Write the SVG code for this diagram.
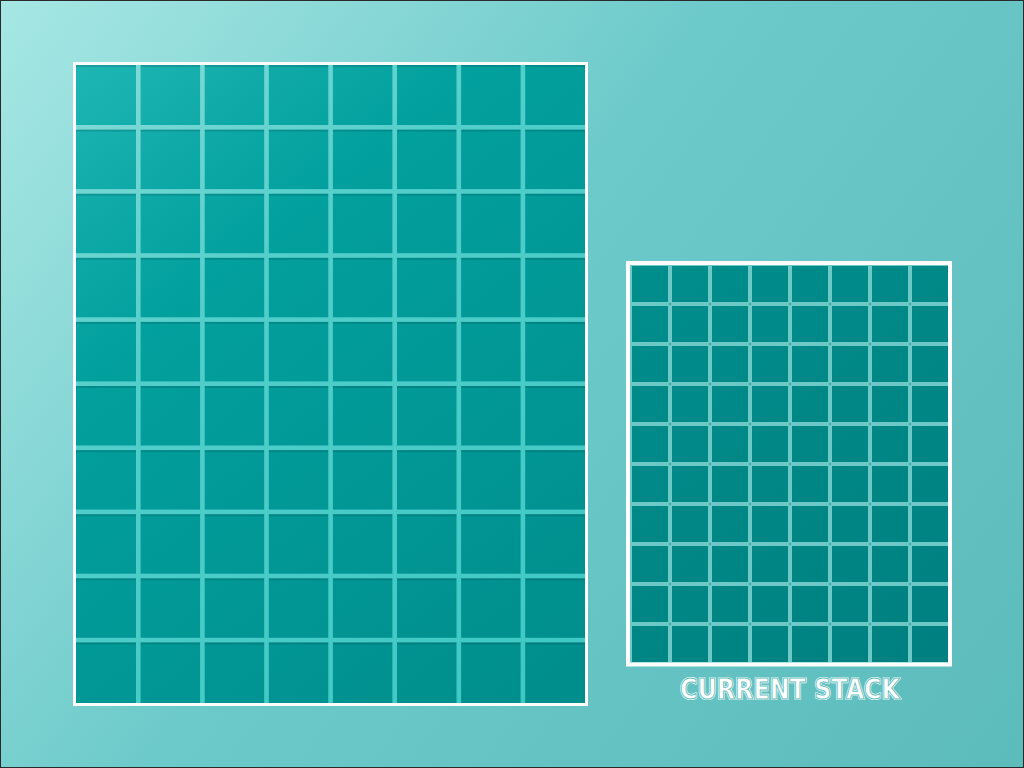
<svg xmlns="http://www.w3.org/2000/svg" width="1024" height="768" viewBox="0 0 1024 768">
  <defs>
    <linearGradient id="bg" gradientUnits="userSpaceOnUse" x1="0" y1="0" x2="1024" y2="768">
      <stop offset="0" stop-color="#a6e7e4"/>
      <stop offset="0.45" stop-color="#6dcaca"/>
      <stop offset="1" stop-color="#5cbbbb"/>
    </linearGradient>
    <linearGradient id="cellBig" gradientUnits="userSpaceOnUse" x1="76" y1="65" x2="585" y2="703">
      <stop offset="0" stop-color="#1eb6b4"/>
      <stop offset="0.3" stop-color="#02a09e"/>
      <stop offset="1" stop-color="#008d8b"/>
    </linearGradient>
    <linearGradient id="gapBig" gradientUnits="userSpaceOnUse" x1="76" y1="65" x2="585" y2="703">
      <stop offset="0" stop-color="#86dbd7"/>
      <stop offset="0.35" stop-color="#52cecb"/>
      <stop offset="1" stop-color="#3cc8c4"/>
    </linearGradient>
    <linearGradient id="cellSmall" gradientUnits="userSpaceOnUse" x1="630" y1="265" x2="948" y2="663">
      <stop offset="0" stop-color="#008e8c"/>
      <stop offset="1" stop-color="#008080"/>
    </linearGradient>
    <pattern id="dots" patternUnits="userSpaceOnUse" x="669" y="303" width="40" height="40">
      <rect x="0" y="0" width="2" height="2" fill="#3aa5a3"/>
    </pattern>
    <style>
      .gb { fill: url(#gapBig); }
      .gs { fill: #6cc9c5; }
      .sh { fill: #000; opacity: 0.12; }
      .frame { fill: none; stroke: #ffffff; }
      .lbl { font-family: "DejaVu Sans", "Liberation Sans", sans-serif; font-weight: bold; font-size: 28px; }
    </style>
  </defs>

  <rect x="0" y="0" width="1024" height="768" fill="url(#bg)"/>
  <rect x="0.5" y="0.5" width="1023" height="767" fill="none" stroke="#2a2a2a" stroke-width="1"/>

  <g id="big-grid">
    <rect x="76" y="65" width="509" height="638" fill="url(#cellBig)"/>
    <!-- horizontal shadows at cell tops -->
    <g class="sh">
      <rect x="76" y="65" width="509" height="2"/>
      <rect x="76" y="129.1" width="509" height="2.5"/>
      <rect x="76" y="193.2" width="509" height="2.5"/>
      <rect x="76" y="257.3" width="509" height="2.5"/>
      <rect x="76" y="321.4" width="509" height="2.5"/>
      <rect x="76" y="385.5" width="509" height="2.5"/>
      <rect x="76" y="449.6" width="509" height="2.5"/>
      <rect x="76" y="513.7" width="509" height="2.5"/>
      <rect x="76" y="577.8" width="509" height="2.5"/>
      <rect x="76" y="641.9" width="509" height="2.5"/>
    </g>
    <!-- vertical gaps -->
    <rect class="gb" x="136" y="65" width="4.6" height="638"/>
    <rect class="gb" x="200.1" y="65" width="4.6" height="638"/>
    <rect class="gb" x="264.2" y="65" width="4.6" height="638"/>
    <rect class="gb" x="328.3" y="65" width="4.6" height="638"/>
    <rect class="gb" x="392.4" y="65" width="4.6" height="638"/>
    <rect class="gb" x="456.5" y="65" width="4.6" height="638"/>
    <rect class="gb" x="520.6" y="65" width="4.6" height="638"/>
    <!-- horizontal gaps -->
    <rect class="gb" x="76" y="125" width="509" height="4.6"/>
    <rect class="gb" x="76" y="189.1" width="509" height="4.6"/>
    <rect class="gb" x="76" y="253.2" width="509" height="4.6"/>
    <rect class="gb" x="76" y="317.3" width="509" height="4.6"/>
    <rect class="gb" x="76" y="381.4" width="509" height="4.6"/>
    <rect class="gb" x="76" y="445.5" width="509" height="4.6"/>
    <rect class="gb" x="76" y="509.6" width="509" height="4.6"/>
    <rect class="gb" x="76" y="573.7" width="509" height="4.6"/>
    <rect class="gb" x="76" y="637.8" width="509" height="4.6"/>
    <rect class="frame" x="74.5" y="63.5" width="512" height="641" stroke-width="3"/>
  </g>

  <g id="current-stack">
    <rect x="630" y="265" width="318" height="398" fill="url(#cellSmall)"/>
    <rect class="gs" x="630" y="265" width="2" height="398"/>
    <rect class="gs" x="630" y="265" width="318" height="1"/>
    <rect class="gs" x="630" y="662" width="318" height="1"/>
    <rect class="gs" x="668" y="265" width="4" height="398"/>
    <rect class="gs" x="708" y="265" width="4" height="398"/>
    <rect class="gs" x="748" y="265" width="4" height="398"/>
    <rect class="gs" x="788" y="265" width="4" height="398"/>
    <rect class="gs" x="828" y="265" width="4" height="398"/>
    <rect class="gs" x="868" y="265" width="4" height="398"/>
    <rect class="gs" x="908" y="265" width="4" height="398"/>
    <rect class="gs" x="630" y="302" width="318" height="4"/>
    <rect class="gs" x="630" y="342" width="318" height="4"/>
    <rect class="gs" x="630" y="382" width="318" height="4"/>
    <rect class="gs" x="630" y="422" width="318" height="4"/>
    <rect class="gs" x="630" y="462" width="318" height="4"/>
    <rect class="gs" x="630" y="502" width="318" height="4"/>
    <rect class="gs" x="630" y="542" width="318" height="4"/>
    <rect class="gs" x="630" y="582" width="318" height="4"/>
    <rect class="gs" x="630" y="622" width="318" height="4"/>
    <rect x="669" y="303" width="242" height="322" fill="url(#dots)"/>
    <rect class="frame" x="628" y="263" width="322" height="401.5" stroke-width="4"/>
    <text class="lbl" x="790" y="699" text-anchor="middle" textLength="220" lengthAdjust="spacingAndGlyphs" fill="#ffffff" stroke="#ffffff" stroke-width="2.2" stroke-linejoin="round">CURRENT STACK</text>
    <text class="lbl" x="790" y="699" text-anchor="middle" textLength="220" lengthAdjust="spacingAndGlyphs" fill="none" stroke="#62c0c0" stroke-width="1">CURRENT STACK</text>
  </g>
</svg>
